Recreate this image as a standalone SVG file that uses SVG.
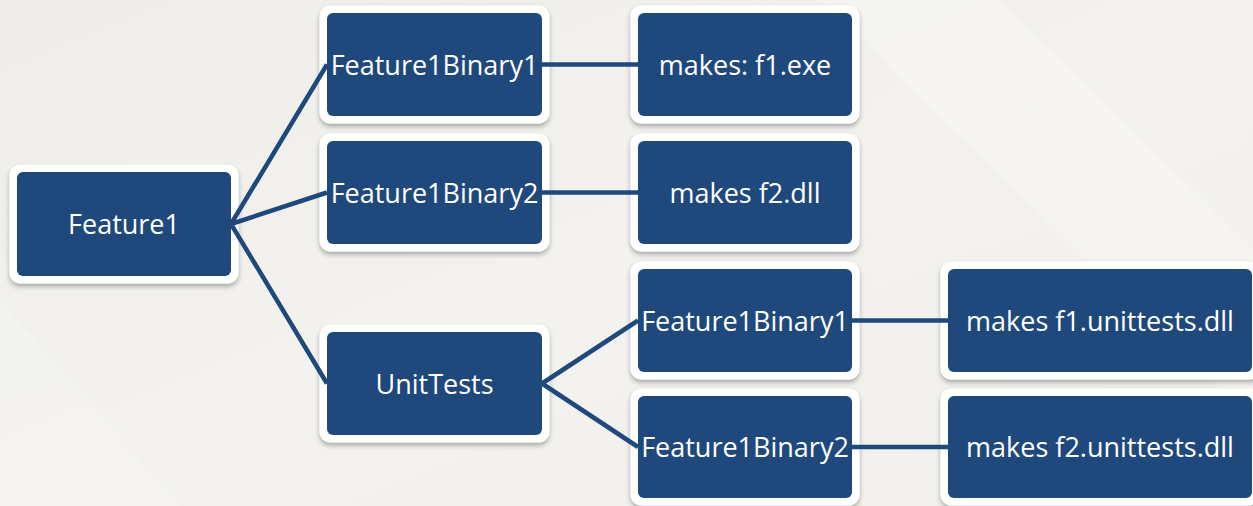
<svg xmlns="http://www.w3.org/2000/svg" width="1253" height="506" viewBox="0 0 1253 506">
  <defs>
    <linearGradient id="bg" x1="0" y1="0" x2="1" y2="1">
      <stop offset="0" stop-color="#eeede8"/>
      <stop offset="0.5" stop-color="#f3f2ef"/>
      <stop offset="1" stop-color="#f1f0ec"/>
    </linearGradient>
    <filter id="sh" x="-10%" y="-10%" width="120%" height="130%">
      <feDropShadow dx="0" dy="3" stdDeviation="2.5" flood-color="#000" flood-opacity="0.3"/>
    </filter>
  </defs>
  <style>
    .outer { fill: #ffffff; filter: url(#sh); }
    .inner { fill: #1f497c; }
    .lbl { font-family: "Open Sans", "Noto Sans", "Liberation Sans", sans-serif; font-size: 27px; fill: #ffffff; text-anchor: middle; }
    .conn { stroke: #1f497c; stroke-width: 4.5; fill: none; }
  </style>
  <rect width="1253" height="506" fill="url(#bg)"/>
  <polygon points="820,0 1000,0 1253,250 1253,420" fill="#ffffff" opacity="0.25"/>
  <polygon points="0,300 0,506 180,506" fill="#ffffff" opacity="0.2"/>

  <g id="node-feature1">
    <rect class="outer" x="9.5" y="164.5" width="229" height="119" rx="11"/>
    <rect class="inner" x="17" y="172" width="214" height="104" rx="6"/>
    <text class="lbl" x="124" y="234">Feature1</text>
  </g>
  <g id="node-binary1">
    <rect class="outer" x="319.5" y="5.5" width="230" height="118" rx="11"/>
    <rect class="inner" x="327" y="13" width="215" height="103" rx="6"/>
    <text class="lbl" x="434.5" y="74.5">Feature1Binary1</text>
  </g>
  <g id="node-f1exe">
    <rect class="outer" x="630.5" y="5.5" width="229" height="118" rx="11"/>
    <rect class="inner" x="638" y="13" width="214" height="103" rx="6"/>
    <text class="lbl" x="745" y="74.5">makes: f1.exe</text>
  </g>
  <g id="node-binary2">
    <rect class="outer" x="319.5" y="133.5" width="230" height="118" rx="11"/>
    <rect class="inner" x="327" y="141" width="215" height="103" rx="6"/>
    <text class="lbl" x="434.5" y="202.5">Feature1Binary2</text>
  </g>
  <g id="node-f2dll">
    <rect class="outer" x="630.5" y="133.5" width="229" height="118" rx="11"/>
    <rect class="inner" x="638" y="141" width="214" height="103" rx="6"/>
    <text class="lbl" x="745" y="202.5">makes f2.dll</text>
  </g>
  <g id="node-unittests">
    <rect class="outer" x="319.5" y="324.5" width="230" height="118" rx="11"/>
    <rect class="inner" x="327" y="332" width="215" height="103" rx="6"/>
    <text class="lbl" x="434.5" y="393.5">UnitTests</text>
  </g>
  <g id="node-ut-binary1">
    <rect class="outer" x="630.5" y="261.5" width="229" height="118" rx="11"/>
    <rect class="inner" x="638" y="269" width="214" height="103" rx="6"/>
    <text class="lbl" x="745" y="330.5">Feature1Binary1</text>
  </g>
  <g id="node-f1-unittests">
    <rect class="outer" x="940.5" y="261.5" width="319" height="118" rx="11"/>
    <rect class="inner" x="948" y="269" width="304" height="103" rx="6"/>
    <text class="lbl" x="1100" y="330.5">makes f1.unittests.dll</text>
  </g>
  <g id="node-ut-binary2">
    <rect class="outer" x="630.5" y="388.5" width="229" height="117" rx="11"/>
    <rect class="inner" x="638" y="396" width="214" height="102" rx="6"/>
    <text class="lbl" x="745" y="457">Feature1Binary2</text>
  </g>
  <g id="node-f2-unittests">
    <rect class="outer" x="940.5" y="388.5" width="319" height="117" rx="11"/>
    <rect class="inner" x="948" y="396" width="304" height="102" rx="6"/>
    <text class="lbl" x="1100" y="457">makes f2.unittests.dll</text>
  </g>

  <g id="connectors" class="conn">
    <line x1="231" y1="224" x2="327" y2="64.5"/>
    <line x1="231" y1="224" x2="327" y2="192.5"/>
    <line x1="231" y1="224" x2="327" y2="383.5"/>
    <line x1="542" y1="64.5" x2="638" y2="64.5"/>
    <line x1="542" y1="192.5" x2="638" y2="192.5"/>
    <line x1="542" y1="383.5" x2="638" y2="320.5"/>
    <line x1="542" y1="383.5" x2="638" y2="447"/>
    <line x1="852" y1="320.5" x2="948" y2="320.5"/>
    <line x1="852" y1="447" x2="948" y2="447"/>
  </g>
</svg>
